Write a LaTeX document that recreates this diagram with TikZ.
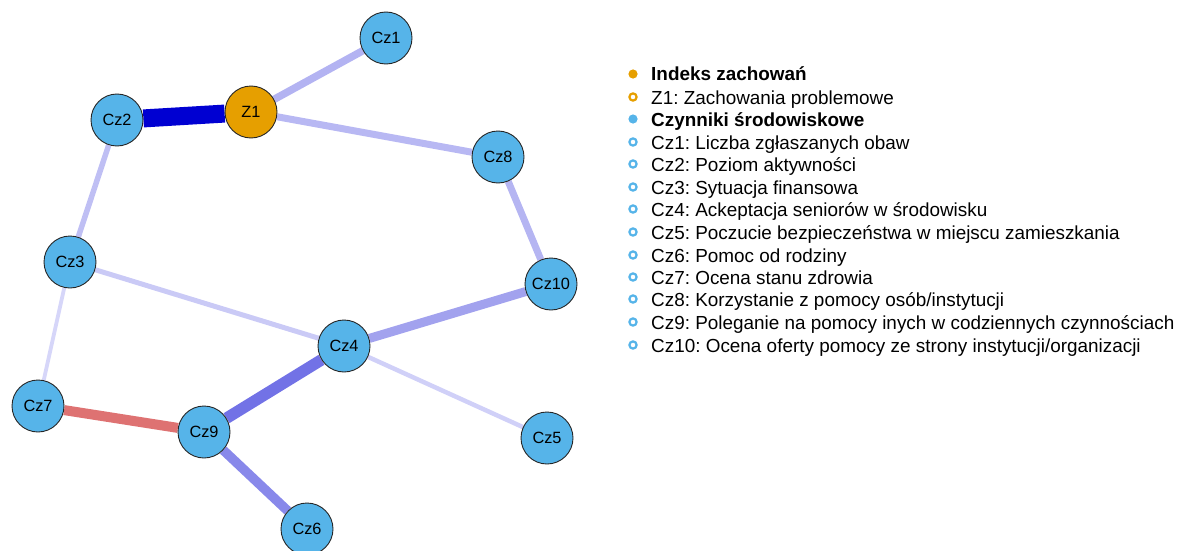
\documentclass[tikz,border=0pt]{standalone}
\usepackage{fontspec}
\setmainfont{Liberation Sans}
\frenchspacing
\definecolor{zorange}{HTML}{E69F00}
\definecolor{zsky}{HTML}{56B4E9}
\definecolor{ebDark}{HTML}{0000D2}
\definecolor{eZa}{HTML}{B3B3F2}
\definecolor{eZb}{HTML}{B8B8F3}
\definecolor{eCa}{HTML}{BFBFF4}
\definecolor{eCb}{HTML}{B5B5F2}
\definecolor{eCc}{HTML}{CACAF6}
\definecolor{eCd}{HTML}{D6D6F9}
\definecolor{eCe}{HTML}{A2A2EE}
\definecolor{eCf}{HTML}{7272E6}
\definecolor{eCg}{HTML}{D0D0F8}
\definecolor{eRed}{HTML}{DE7272}
\definecolor{eCh}{HTML}{8888EA}
\pgfdeclarelayer{edgelayer}
\pgfsetlayers{edgelayer,main}
\tikzset{
  vnode/.style={circle, draw=black!85, line width=0.9pt, fill=zsky, minimum size=52pt, inner sep=0pt, font=\fontsize{16.3}{18}\selectfont},
  znode/.style={vnode, fill=zorange},
  edgeline/.style={line cap=butt},
  legtext/.style={anchor=base west, inner sep=0pt, font=\fontsize{18.9}{22}\selectfont},
  legbold/.style={legtext, font=\fontsize{18.9}{22}\selectfont\bfseries},
  dotfill/.style={fill=#1, draw=none},
  dotring/.style={draw=#1, line width=2.2pt, fill=white}
}
\begin{document}
\begin{tikzpicture}[x=1pt,y=-1pt]
\useasboundingbox (0,0) rectangle (1177,551);
% nodes
\node[vnode] (cz1) at (386,38) {Cz1};
\node[znode] (z1) at (251,112) {Z1};
\node[vnode] (cz2) at (117,120) {Cz2};
\node[vnode] (cz8) at (498,157) {Cz8};
\node[vnode] (cz3) at (70,262) {Cz3};
\node[vnode] (cz10) at (551,284) {Cz10};
\node[vnode] (cz4) at (344,346) {Cz4};
\node[vnode] (cz7) at (38,406) {Cz7};
\node[vnode] (cz9) at (204,432) {Cz9};
\node[vnode] (cz5) at (547,438) {Cz5};
\node[vnode] (cz6) at (307,529) {Cz6};
% edges
\begin{pgfonlayer}{edgelayer}
\draw[edgeline, draw=ebDark, line width=18pt] (z1) -- (cz2);
\draw[edgeline, draw=eZa, line width=7.5pt] (z1) -- (cz1);
\draw[edgeline, draw=eZb, line width=7pt] (z1) -- (cz8);
\draw[edgeline, draw=eCa, line width=5.5pt] (cz2) -- (cz3);
\draw[edgeline, draw=eCb, line width=7pt] (cz8) -- (cz10);
\draw[edgeline, draw=eCc, line width=5pt] (cz3) -- (cz4);
\draw[edgeline, draw=eCd, line width=3.8pt] (cz3) -- (cz7);
\draw[edgeline, draw=eCe, line width=9pt] (cz10) -- (cz4);
\draw[edgeline, draw=eCf, line width=11.5pt] (cz4) -- (cz9);
\draw[edgeline, draw=eCg, line width=4.5pt] (cz4) -- (cz5);
\draw[edgeline, draw=eRed, line width=10pt] (cz7) -- (cz9);
\draw[edgeline, draw=eCh, line width=9.5pt] (cz9) -- (cz6);
\end{pgfonlayer}
% legend
\fill[dotfill=zorange] (633,74) circle (4.6pt);
\node[legbold] (l0) at (651,81) {Indeks zachowań};
\draw[dotring=zorange] (633,97) circle (3.6pt);
\node[legtext] (l1) at (651,104) {Z1: Zachowania problemowe};
\fill[dotfill=zsky] (633,119) circle (4.6pt);
\node[legbold] (l2) at (651,126) {Czynniki środowiskowe};
\draw[dotring=zsky] (633,142) circle (3.6pt);
\node[legtext] (l3) at (651,149) {Cz1: Liczba zgłaszanych obaw};
\draw[dotring=zsky] (633,164) circle (3.6pt);
\node[legtext] (l4) at (651,171) {Cz2: Poziom aktywności};
\draw[dotring=zsky] (633,187) circle (3.6pt);
\node[legtext] (l5) at (651,194) {Cz3: Sytuacja finansowa};
\draw[dotring=zsky] (633,209) circle (3.6pt);
\node[legtext] (l6) at (651,216) {Cz4: Ackeptacja seniorów w środowisku};
\draw[dotring=zsky] (633,232) circle (3.6pt);
\node[legtext] (l7) at (651,239) {Cz5: Poczucie bezpieczeństwa w miejscu zamieszkania};
\draw[dotring=zsky] (633,255) circle (3.6pt);
\node[legtext] (l8) at (651,262) {Cz6: Pomoc od rodziny};
\draw[dotring=zsky] (633,277) circle (3.6pt);
\node[legtext] (l9) at (651,284) {Cz7: Ocena stanu zdrowia};
\draw[dotring=zsky] (633,299) circle (3.6pt);
\node[legtext] (l10) at (651,306) {Cz8: Korzystanie z pomocy osób/instytucji};
\draw[dotring=zsky] (633,322) circle (3.6pt);
\node[legtext] (l11) at (651,329) {Cz9: Poleganie na pomocy inych w codziennych czynnościach};
\draw[dotring=zsky] (633,345) circle (3.6pt);
\node[legtext] (l12) at (651,352) {Cz10: Ocena oferty pomocy ze strony instytucji/organizacji};
\end{tikzpicture}
\end{document}
